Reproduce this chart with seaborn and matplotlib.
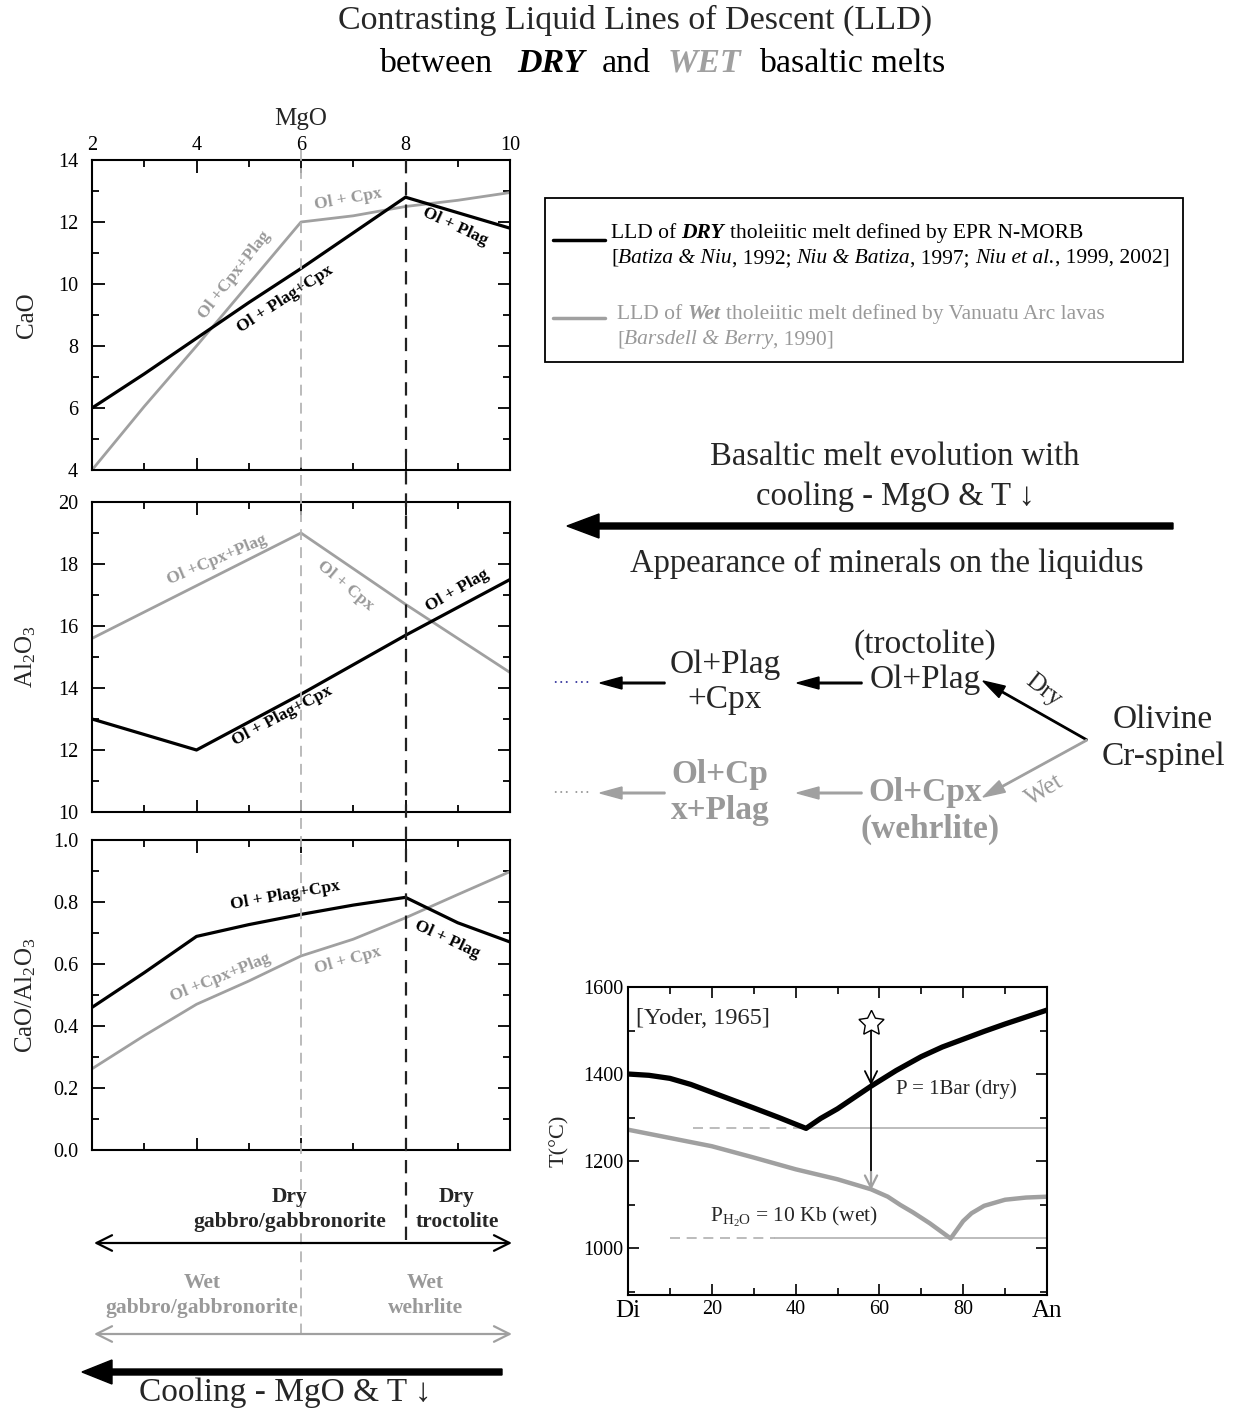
import matplotlib
matplotlib.use('Agg')
import matplotlib.pyplot as plt
from matplotlib.ticker import MultipleLocator
import seaborn as sns
import pandas as pd

# ---------------- data ----------------
mgo = [2, 3, 4, 5, 6, 7, 8, 9, 10]
cao_dry = [6.0, 7.1, 8.25, 9.4, 10.5, 11.65, 12.8, 12.3, 11.8]
cao_wet = [4.0, 6.05, 8.0, 10.0, 12.0, 12.2, 12.5, 12.7, 12.95]
al_dry = [13.0, 12.5, 12.0, 12.9, 13.8, 14.75, 15.7, 16.6, 17.5]
al_wet = [15.6, 16.45, 17.3, 18.15, 19.0, 17.85, 16.7, 15.6, 14.5]
ratio_dry = [0.46, 0.572, 0.689, 0.727, 0.76, 0.79, 0.815, 0.733, 0.671]
ratio_wet = [0.262, 0.369, 0.47, 0.545, 0.626, 0.68, 0.749, 0.824, 0.898]
boundaries = [6, 8]          # MgO at which phase assemblages change (wet, dry)

comp_dry = [0, 5, 10, 15, 20, 25, 30, 36, 42.5, 46, 50, 54, 58, 64, 70, 75,
            80, 85, 90, 95, 100]
t_dry = [1400, 1397, 1390, 1376, 1358, 1340, 1322, 1300, 1275, 1298, 1320,
         1346, 1372, 1408, 1440, 1462, 1480, 1498, 1515, 1531, 1547]
comp_wet = [0, 10, 20, 30, 40, 50, 58, 62, 65, 68, 72, 75, 77, 78.5, 80, 82,
            85, 90, 95, 100]
t_wet = [1272, 1253, 1234, 1208, 1181, 1158, 1135, 1118, 1099, 1082, 1057,
         1036, 1022, 1042, 1062, 1080, 1097, 1111, 1116, 1118]
eutectic_t = [1275, 1022]
eutectic_dash_start = [15.5, 10]
eutectic_solid_start = [42, 35]
star_comp = 58
star_t = 1517
phase_xticks = [0, 20, 40, 60, 80, 100]
phase_xlabels = ['Di', '20', '40', '60', '80', 'An']

# ---------------- style ----------------
sns.set_theme(style='ticks')
SERIF = ['Liberation Serif', 'DejaVu Serif']
plt.rcParams['font.family'] = SERIF
plt.rcParams['mathtext.fontset'] = 'custom'
plt.rcParams['mathtext.rm'] = 'Liberation Serif'
plt.rcParams['mathtext.it'] = 'Liberation Serif:italic'
plt.rcParams['mathtext.bf'] = 'Liberation Serif:bold'

BLACK = '#000000'
GRAY = '#a0a0a0'
GRAYTXT = '#999999'

W, H = 1236, 1412
fig = plt.figure(figsize=(W / 100, H / 100), dpi=100)
fig.patch.set_facecolor('white')


def rect(l, t, r, b):
    return [l / W, 1 - b / H, (r - l) / W, (b - t) / H]


def style_axes(ax, ymaj, ymin_):
    for s in ax.spines.values():
        s.set_linewidth(1.5)
        s.set_color('black')
    ax.xaxis.set_major_locator(MultipleLocator(2))
    ax.xaxis.set_minor_locator(MultipleLocator(1))
    ax.yaxis.set_major_locator(MultipleLocator(ymaj))
    ax.yaxis.set_minor_locator(MultipleLocator(ymin_))
    ax.tick_params(which='both', direction='in', top=True, right=True,
                   width=1.3, colors='black', labelsize=14.5)
    ax.tick_params(which='major', length=9)
    ax.tick_params(which='minor', length=5)
    ax.tick_params(axis='y', which='major', pad=10)
    ax.set_facecolor('white')


panels = [
    (rect(92, 160, 510, 470), cao_dry, cao_wet, (4, 14), 2, 1, 'CaO'),
    (rect(92, 502, 510, 812), al_dry, al_wet, (10, 20), 2, 1, r'Al$_2$O$_3$'),
    (rect(92, 840, 510, 1150), ratio_dry, ratio_wet, (0, 1.0), 0.2, 0.1,
     r'CaO/Al$_2$O$_3$'),
]
axes = []
for i, (r, dry, wet, yl, ymaj, ymn, lab) in enumerate(panels):
    ax = fig.add_axes(r)
    df = pd.DataFrame({'MgO': mgo, 'dry': dry, 'wet': wet})
    sns.lineplot(data=df, x='MgO', y='wet', ax=ax, color=GRAY, lw=2.0,
                 estimator=None, sort=False)
    sns.lineplot(data=df, x='MgO', y='dry', ax=ax, color=BLACK, lw=2.3,
                 estimator=None, sort=False)
    ax.set_xlim(2, 10)
    ax.set_ylim(*yl)
    style_axes(ax, ymaj, ymn)
    ax.set_ylabel(lab, fontsize=18)
    ax.yaxis.set_label_coords(-0.13, 0.5)
    if i == 0:
        ax.tick_params(labeltop=True, labelbottom=False)
        ax.xaxis.set_label_position('top')
        ax.set_xlabel('MgO', fontsize=18, labelpad=8)
    else:
        ax.tick_params(labeltop=False, labelbottom=False)
        ax.set_xlabel('')
    if i == 2:
        ax.yaxis.set_major_formatter(matplotlib.ticker.FormatStrFormatter('%.1f'))
    axes.append(ax)

lab_kw = dict(fontsize=12.5, fontweight='bold', ha='center', va='center',
              rotation_mode='anchor')
a0, a1, a2 = axes
a0.text(6.9, 12.72, 'Ol + Cpx', color=GRAYTXT, rotation=10, **lab_kw)
a0.text(8.95, 11.85, 'Ol + Plag', color=BLACK, rotation=-25, **lab_kw)
a0.text(5.7, 9.5, 'Ol + Plag+Cpx', color=BLACK, rotation=33, **lab_kw)
a0.text(4.72, 10.3, 'Ol +Cpx+Plag', color=GRAYTXT, rotation=52, **lab_kw)

a1.text(4.4, 18.15, 'Ol +Cpx+Plag', color=GRAYTXT, rotation=23, **lab_kw)
a1.text(6.85, 17.3, 'Ol + Cpx', color=GRAYTXT, rotation=-40, **lab_kw)
a1.text(9.0, 17.15, 'Ol + Plag', color=BLACK, rotation=30, **lab_kw)
a1.text(5.65, 13.1, 'Ol + Plag+Cpx', color=BLACK, rotation=28, **lab_kw)

a2.text(5.7, 0.82, 'Ol + Plag+Cpx', color=BLACK, rotation=10, **lab_kw)
a2.text(8.8, 0.68, 'Ol + Plag', color=BLACK, rotation=-25, **lab_kw)
a2.text(4.45, 0.555, 'Ol +Cpx+Plag', color=GRAYTXT, rotation=22, **lab_kw)
a2.text(6.9, 0.61, 'Ol + Cpx', color=GRAYTXT, rotation=15, **lab_kw)

# ---------------- phase diagram ----------------
ap = fig.add_axes(rect(628, 987, 1047, 1295))
dfd = pd.DataFrame({'c': comp_dry, 't': t_dry})
dfw = pd.DataFrame({'c': comp_wet, 't': t_wet})
for tt, ds, ss in zip(eutectic_t, eutectic_dash_start, eutectic_solid_start):
    ap.plot([ds, ss], [tt, tt], color='#b0b0b0', lw=1.2, ls=(0, (6, 4)))
    ap.plot([ss, 100], [tt, tt], color='#b0b0b0', lw=1.2)
sns.lineplot(data=dfw, x='c', y='t', ax=ap, color=GRAY, lw=3.2,
             estimator=None, sort=False)
sns.lineplot(data=dfd, x='c', y='t', ax=ap, color=BLACK, lw=3.8,
             estimator=None, sort=False)
ap.set_xlim(0, 100)
ap.set_ylim(892, 1600)
for s in ap.spines.values():
    s.set_linewidth(1.5)
    s.set_color('black')
ap.set_xticks(phase_xticks)
ap.set_xticklabels(phase_xlabels)
ap.xaxis.set_minor_locator(MultipleLocator(10))
ap.yaxis.set_major_locator(MultipleLocator(200))
ap.yaxis.set_minor_locator(MultipleLocator(100))
ap.tick_params(which='both', direction='in', top=True, right=True,
               width=1.2, labelsize=14.5, colors='black')
ap.tick_params(which='major', length=8)
ap.tick_params(which='minor', length=5)
for lbl in ap.get_xticklabels():
    if lbl.get_text() in ('Di', 'An'):
        lbl.set_fontsize(18)
ap.set_xlabel('')
ap.set_ylabel('T(°C)', fontsize=16)
ap.yaxis.set_label_coords(-0.14, 0.5)
ap.set_facecolor('white')

# vertical arrow from star
ap.plot([star_comp], [star_t], marker=(5, 1, 0), ms=19, mfc='white',
        mec='black', mew=1.0, ls='none', zorder=5)
ap.annotate('', xy=(star_comp, 1374), xytext=(star_comp, star_t - 12),
            arrowprops=dict(arrowstyle='->', lw=1.3, color='black',
                            mutation_scale=22, shrinkA=0, shrinkB=0))
ap.plot([star_comp, star_comp], [1374, 1140], color='black', lw=1.3)
ap.annotate('', xy=(star_comp, 1133), xytext=(star_comp, 1175),
            arrowprops=dict(arrowstyle='->', lw=1.6, color=GRAY,
                            mutation_scale=22, shrinkA=0, shrinkB=0))
ap.text(1.8, 1527, '[Yoder, 1965]', fontsize=17.5, va='center', ha='left')
ap.text(64, 1366, 'P = 1Bar (dry)', fontsize=15, va='center', ha='left')
ap.text(19.5, 1072, r'P$_{\mathrm{H_2O}}$ = 10 Kb (wet)', fontsize=15.5,
        va='center', ha='left')

# ---------------- MgO overlay (boundaries) ----------------
ao = fig.add_axes([92 / W, 0, 418 / W, 1])
ao.set_xlim(2, 10)
ao.set_ylim(H, 0)
ao.axis('off')
ao.patch.set_visible(False)
ao.plot([boundaries[0]] * 2, [150, 1337], color='#b5b5b5', lw=1.3,
        ls=(0, (6, 4)))
ao.plot([boundaries[1]] * 2, [160, 1245], color='#222222', lw=1.6,
        ls=(0, (6, 4)))

# ---------------- figure-pixel overlay for annotations ----------------
ax = fig.add_axes([0, 0, 1, 1])
ax.set_xlim(0, W)
ax.set_ylim(H, 0)
ax.axis('off')
ax.patch.set_visible(False)
renderer = fig.canvas.get_renderer()


def rich(x, y, pieces, fs, ha='left', color='black'):
    sp = fs * 100 / 72 * 0.25
    cur = x
    items = []
    for txt, st in pieces:
        if txt == ' ':
            cur += sp
            continue
        kw = dict(color=color)
        kw.update(st)
        t = ax.text(cur, y, txt, fontsize=fs, ha='left', va='baseline', **kw)
        cur += t.get_window_extent(renderer=renderer).width
        items.append(t)
    if ha == 'center':
        off = (cur - x) / 2
        for t in items:
            px, py = t.get_position()
            t.set_position((px - off, py))


BI = dict(fontweight='bold', fontstyle='italic')
IT = dict(fontstyle='italic')
N = {}
ARROWFONT = ['Liberation Serif', 'DejaVu Sans']

# title
ax.text(635, 20, 'Contrasting Liquid Lines of Descent (LLD)', fontsize=24.5,
        ha='center', va='center')
rich(662, 72, [('between', N), (' ', N), (' ', N), (' ', N), ('DRY', BI),
               (' ', N), (' ', N), ('and', N), (' ', N), (' ', N),
               ('WET', dict(fontweight='bold', fontstyle='italic', color=GRAY)),
               (' ', N), (' ', N), ('basaltic melts', N)], 24.5, ha='center')

# legend box
ax.add_patch(plt.Rectangle((545, 198), 638, 164, fill=False, ec='black',
                           lw=1.3))
ax.plot([553, 605], [240, 240], color='black', lw=2.5)
ax.plot([553, 605], [318, 318], color=GRAY, lw=2.5)
LFS = 15.5
rich(611, 238, [('LLD of', N), (' ', N), ('DRY', BI), (' ', N),
                ('tholeiitic melt defined by EPR N-MORB', N)], LFS)
rich(611, 263, [('[', N), ('Batiza & Niu', IT), (', 1992;', N), (' ', N),
                ('Niu & Batiza', IT), (', 1997;', N), (' ', N),
                ('Niu et al.', IT), (', 1999, 2002]', N)], LFS)
rich(617, 319, [('LLD of', N), (' ', N), ('Wet', BI), (' ', N),
                ('tholeiitic melt defined by Vanuatu Arc lavas', N)], LFS,
     color=GRAYTXT)
rich(617, 344, [('[', N), ('Barsdell & Berry', IT), (', 1990]', N)], LFS,
     color=GRAYTXT)

# right-side explanation
RFS = 23.5
ax.text(895, 457, 'Basaltic melt evolution with', fontsize=RFS, ha='center',
        va='center')
ax.text(895, 497, 'cooling - MgO & T ↓', fontsize=RFS, ha='center',
        va='center', family=ARROWFONT)
ax.arrow(1173, 526, -606, 0, width=6, head_width=24, head_length=32,
         length_includes_head=True, color='black')
ax.text(887, 563, 'Appearance of minerals on the liquidus', fontsize=RFS,
        ha='center', va='center')

# flow diagram
FS = 24
ax.text(925, 645, '(troctolite)', fontsize=FS, ha='center', va='center')
ax.text(925, 680, 'Ol+Plag', fontsize=FS, ha='center', va='center')
ax.text(725, 665, 'Ol+Plag', fontsize=FS, ha='center', va='center')
ax.text(725, 700, '+Cpx', fontsize=FS, ha='center', va='center')
ax.text(1163, 720, 'Olivine', fontsize=FS, ha='center', va='center')
ax.text(1163, 757, 'Cr-spinel', fontsize=FS, ha='center', va='center')
ax.text(925, 792, 'Ol+Cpx', fontsize=FS, ha='center', va='center',
        color=GRAYTXT, fontweight='bold')
ax.text(930, 829, '(wehrlite)', fontsize=FS, ha='center', va='center',
        color=GRAYTXT, fontweight='bold')
ax.text(720, 775, 'Ol+Cp', fontsize=FS, ha='center', va='center',
        color=GRAYTXT, fontweight='bold')
ax.text(720, 810, 'x+Plag', fontsize=FS, ha='center', va='center',
        color=GRAYTXT, fontweight='bold')
ax.text(1043, 690, 'Dry', fontsize=18, ha='center', va='center',
        rotation=-38)
ax.text(1045, 790, 'Wet', fontsize=18, ha='center', va='center',
        rotation=32, color=GRAYTXT)
ax.text(572, 684, '··· ···', fontsize=12, ha='center', va='center',
        color='#3a3aa0')
ax.text(572, 794, '··· ···', fontsize=12, ha='center', va='center',
        color=GRAYTXT)
for yy, cc in ((683, 'black'), (793, GRAY)):
    ax.arrow(862, yy, -65, 0, width=1.6, head_width=12, head_length=22,
             length_includes_head=True, color=cc)
    ax.arrow(665, yy, -65, 0, width=1.6, head_width=12, head_length=22,
             length_includes_head=True, color=cc)
ax.arrow(1087, 740, -104, -59, width=1.4, head_width=13, head_length=22,
         length_includes_head=True, color='black')
ax.arrow(1087, 740, -104, 57, width=1.4, head_width=13, head_length=22,
         length_includes_head=True, color=GRAY)

# bottom-left annotations
bkw = dict(fontsize=15.5, fontweight='bold', ha='center', va='center')
ax.text(290, 1197, 'Dry', **bkw)
ax.text(290, 1222, 'gabbro/gabbronorite', **bkw)
ax.text(457, 1197, 'Dry', **bkw)
ax.text(457, 1222, 'troctolite', **bkw)
ax.text(202, 1283, 'Wet', color=GRAYTXT, **bkw)
ax.text(202, 1308, 'gabbro/gabbronorite', color=GRAYTXT, **bkw)
ax.text(425, 1283, 'Wet', color=GRAYTXT, **bkw)
ax.text(425, 1308, 'wehrlite', color=GRAYTXT, **bkw)
ax.annotate('', xy=(512, 1243), xytext=(94, 1243),
            arrowprops=dict(arrowstyle='<->', lw=1.6, color='black',
                            mutation_scale=28, shrinkA=0, shrinkB=0))
ax.annotate('', xy=(512, 1334), xytext=(94, 1334),
            arrowprops=dict(arrowstyle='<->', lw=1.6, color=GRAY,
                            mutation_scale=28, shrinkA=0, shrinkB=0))
ax.arrow(502, 1372, -420, 0, width=6, head_width=24, head_length=30,
         length_includes_head=True, color='black')
ax.text(285, 1393, 'Cooling - MgO & T ↓', fontsize=24, ha='center',
        va='center', family=ARROWFONT)

fig.savefig('out.png', dpi=100, facecolor='white')
